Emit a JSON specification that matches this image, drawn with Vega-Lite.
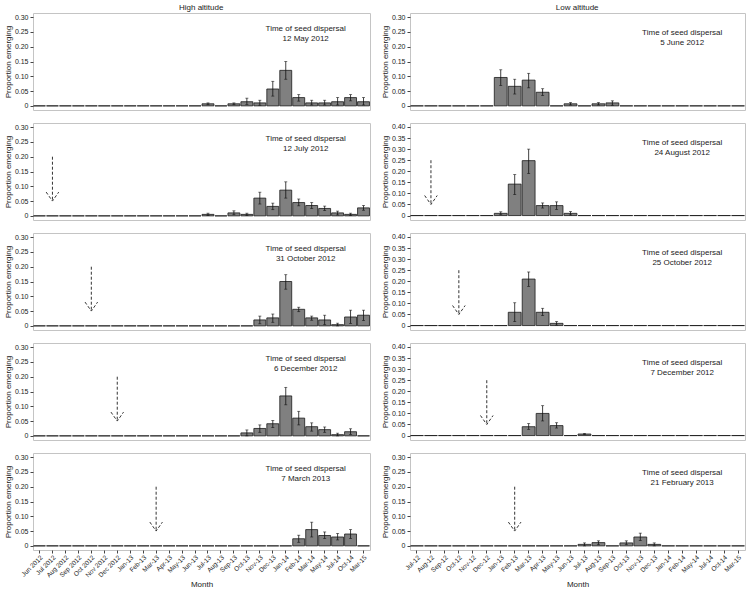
{
"$schema":"https://vega.github.io/schema/vega-lite/v6.json",
"padding":{"left":3,"top":3,"right":2,"bottom":2},
"config":{"font":"Liberation Sans","view":{"stroke":"#c4c4c4"},"axis":{"labelFontSize":7,"titleFontSize":8,"titleFontWeight":"normal","labelColor":"#222","titleColor":"#222","tickColor":"#444","domain":false,"grid":false,"tickSize":3,"labelPadding":2,"titlePadding":2},"title":{"fontSize":8,"fontWeight":"normal","offset":1,"color":"#222"}},
"datasets":{
"bars":[
{"p":1,"m":"Jun 2012","v":0},{"p":1,"m":"Jul 2012","v":0},{"p":1,"m":"Aug 2012","v":0},{"p":1,"m":"Sep 2012","v":0},{"p":1,"m":"Oct 2012","v":0},{"p":1,"m":"Nov 2012","v":0},{"p":1,"m":"Dec 2012","v":0},{"p":1,"m":"Jan-13","v":0},{"p":1,"m":"Feb-13","v":0},{"p":1,"m":"Mar-13","v":0},{"p":1,"m":"Apr-13","v":0},{"p":1,"m":"May-13","v":0},{"p":1,"m":"Jun-13","v":0},{"p":1,"m":"Jul-13","v":0.007,"lo":0.004,"hi":0.01},{"p":1,"m":"Aug-13","v":0},{"p":1,"m":"Sep-13","v":0.007,"lo":0.004,"hi":0.01},{"p":1,"m":"Oct-13","v":0.014,"lo":0.005,"hi":0.026},{"p":1,"m":"Nov-13","v":0.01,"lo":0.002,"hi":0.019},{"p":1,"m":"Dec-13","v":0.057,"lo":0.033,"hi":0.083},{"p":1,"m":"Jan-14","v":0.12,"lo":0.09,"hi":0.15},{"p":1,"m":"Feb-14","v":0.028,"lo":0.016,"hi":0.038},{"p":1,"m":"Mar-14","v":0.01,"lo":0.003,"hi":0.019},{"p":1,"m":"May-14","v":0.01,"lo":0.003,"hi":0.019},{"p":1,"m":"Jul-14","v":0.014,"lo":0.003,"hi":0.028},{"p":1,"m":"Oct-14","v":0.028,"lo":0.017,"hi":0.038},{"p":1,"m":"Mar-15","v":0.014,"lo":0.003,"hi":0.028},
{"p":2,"m":"Jun 2012","v":0},{"p":2,"m":"Jul 2012","v":0},{"p":2,"m":"Aug 2012","v":0},{"p":2,"m":"Sep 2012","v":0},{"p":2,"m":"Oct 2012","v":0},{"p":2,"m":"Nov 2012","v":0},{"p":2,"m":"Dec 2012","v":0},{"p":2,"m":"Jan-13","v":0},{"p":2,"m":"Feb-13","v":0},{"p":2,"m":"Mar-13","v":0},{"p":2,"m":"Apr-13","v":0},{"p":2,"m":"May-13","v":0},{"p":2,"m":"Jun-13","v":0},{"p":2,"m":"Jul-13","v":0.005,"lo":0.001,"hi":0.009},{"p":2,"m":"Aug-13","v":0},{"p":2,"m":"Sep-13","v":0.01,"lo":0.004,"hi":0.017},{"p":2,"m":"Oct-13","v":0.005,"lo":0.001,"hi":0.009},{"p":2,"m":"Nov-13","v":0.06,"lo":0.04,"hi":0.08},{"p":2,"m":"Dec-13","v":0.032,"lo":0.021,"hi":0.043},{"p":2,"m":"Jan-14","v":0.087,"lo":0.06,"hi":0.115},{"p":2,"m":"Feb-14","v":0.045,"lo":0.034,"hi":0.057},{"p":2,"m":"Mar-14","v":0.035,"lo":0.025,"hi":0.045},{"p":2,"m":"May-14","v":0.025,"lo":0.018,"hi":0.033},{"p":2,"m":"Jul-14","v":0.01,"lo":0.003,"hi":0.016},{"p":2,"m":"Oct-14","v":0.005,"lo":0.001,"hi":0.009},{"p":2,"m":"Mar-15","v":0.027,"lo":0.019,"hi":0.035},
{"p":3,"m":"Jun 2012","v":0},{"p":3,"m":"Jul 2012","v":0},{"p":3,"m":"Aug 2012","v":0},{"p":3,"m":"Sep 2012","v":0},{"p":3,"m":"Oct 2012","v":0},{"p":3,"m":"Nov 2012","v":0},{"p":3,"m":"Dec 2012","v":0},{"p":3,"m":"Jan-13","v":0},{"p":3,"m":"Feb-13","v":0},{"p":3,"m":"Mar-13","v":0},{"p":3,"m":"Apr-13","v":0},{"p":3,"m":"May-13","v":0},{"p":3,"m":"Jun-13","v":0},{"p":3,"m":"Jul-13","v":0},{"p":3,"m":"Aug-13","v":0},{"p":3,"m":"Sep-13","v":0},{"p":3,"m":"Oct-13","v":0},{"p":3,"m":"Nov-13","v":0.02,"lo":0.007,"hi":0.033},{"p":3,"m":"Dec-13","v":0.027,"lo":0.012,"hi":0.04},{"p":3,"m":"Jan-14","v":0.15,"lo":0.124,"hi":0.173},{"p":3,"m":"Feb-14","v":0.056,"lo":0.048,"hi":0.063},{"p":3,"m":"Mar-14","v":0.027,"lo":0.019,"hi":0.033},{"p":3,"m":"May-14","v":0.02,"lo":0.004,"hi":0.036},{"p":3,"m":"Jul-14","v":0.004,"lo":0,"hi":0.009},{"p":3,"m":"Oct-14","v":0.03,"lo":0.008,"hi":0.053},{"p":3,"m":"Mar-15","v":0.036,"lo":0.018,"hi":0.053},
{"p":4,"m":"Jun 2012","v":0},{"p":4,"m":"Jul 2012","v":0},{"p":4,"m":"Aug 2012","v":0},{"p":4,"m":"Sep 2012","v":0},{"p":4,"m":"Oct 2012","v":0},{"p":4,"m":"Nov 2012","v":0},{"p":4,"m":"Dec 2012","v":0},{"p":4,"m":"Jan-13","v":0},{"p":4,"m":"Feb-13","v":0},{"p":4,"m":"Mar-13","v":0},{"p":4,"m":"Apr-13","v":0},{"p":4,"m":"May-13","v":0},{"p":4,"m":"Jun-13","v":0},{"p":4,"m":"Jul-13","v":0},{"p":4,"m":"Aug-13","v":0},{"p":4,"m":"Sep-13","v":0},{"p":4,"m":"Oct-13","v":0.01,"lo":0,"hi":0.02},{"p":4,"m":"Nov-13","v":0.025,"lo":0.012,"hi":0.037},{"p":4,"m":"Dec-13","v":0.041,"lo":0.028,"hi":0.052},{"p":4,"m":"Jan-14","v":0.135,"lo":0.105,"hi":0.164},{"p":4,"m":"Feb-14","v":0.06,"lo":0.037,"hi":0.083},{"p":4,"m":"Mar-14","v":0.031,"lo":0.016,"hi":0.044},{"p":4,"m":"May-14","v":0.021,"lo":0.012,"hi":0.03},{"p":4,"m":"Jul-14","v":0.004,"lo":0,"hi":0.009},{"p":4,"m":"Oct-14","v":0.014,"lo":0.005,"hi":0.024},{"p":4,"m":"Mar-15","v":0},
{"p":5,"m":"Jun 2012","v":0},{"p":5,"m":"Jul 2012","v":0},{"p":5,"m":"Aug 2012","v":0},{"p":5,"m":"Sep 2012","v":0},{"p":5,"m":"Oct 2012","v":0},{"p":5,"m":"Nov 2012","v":0},{"p":5,"m":"Dec 2012","v":0},{"p":5,"m":"Jan-13","v":0},{"p":5,"m":"Feb-13","v":0},{"p":5,"m":"Mar-13","v":0},{"p":5,"m":"Apr-13","v":0},{"p":5,"m":"May-13","v":0},{"p":5,"m":"Jun-13","v":0},{"p":5,"m":"Jul-13","v":0},{"p":5,"m":"Aug-13","v":0},{"p":5,"m":"Sep-13","v":0},{"p":5,"m":"Oct-13","v":0},{"p":5,"m":"Nov-13","v":0},{"p":5,"m":"Dec-13","v":0},{"p":5,"m":"Jan-14","v":0},{"p":5,"m":"Feb-14","v":0.024,"lo":0.012,"hi":0.036},{"p":5,"m":"Mar-14","v":0.055,"lo":0.03,"hi":0.08},{"p":5,"m":"May-14","v":0.035,"lo":0.025,"hi":0.047},{"p":5,"m":"Jul-14","v":0.03,"lo":0.02,"hi":0.042},{"p":5,"m":"Oct-14","v":0.04,"lo":0.025,"hi":0.055},{"p":5,"m":"Mar-15","v":0},
{"p":6,"m":"Jul-12","v":0},{"p":6,"m":"Aug-12","v":0},{"p":6,"m":"Sep-12","v":0},{"p":6,"m":"Oct-12","v":0},{"p":6,"m":"Nov-12","v":0},{"p":6,"m":"Dec-12","v":0},{"p":6,"m":"Jan-13","v":0.096,"lo":0.069,"hi":0.122},{"p":6,"m":"Feb-13","v":0.066,"lo":0.04,"hi":0.09},{"p":6,"m":"Mar-13","v":0.087,"lo":0.061,"hi":0.11},{"p":6,"m":"Apr-13","v":0.046,"lo":0.035,"hi":0.058},{"p":6,"m":"May-13","v":0},{"p":6,"m":"Jun-13","v":0.007,"lo":0.003,"hi":0.011},{"p":6,"m":"Jul-13","v":0},{"p":6,"m":"Aug-13","v":0.007,"lo":0.003,"hi":0.011},{"p":6,"m":"Sep-13","v":0.01,"lo":0.002,"hi":0.017},{"p":6,"m":"Oct-13","v":0},{"p":6,"m":"Nov-13","v":0},{"p":6,"m":"Dec-13","v":0},{"p":6,"m":"Jan-14","v":0},{"p":6,"m":"Feb-14","v":0},{"p":6,"m":"May-14","v":0},{"p":6,"m":"Jul-14","v":0},{"p":6,"m":"Oct-14","v":0},{"p":6,"m":"Mar-15","v":0},
{"p":7,"m":"Jul-12","v":0},{"p":7,"m":"Aug-12","v":0},{"p":7,"m":"Sep-12","v":0},{"p":7,"m":"Oct-12","v":0},{"p":7,"m":"Nov-12","v":0},{"p":7,"m":"Dec-12","v":0},{"p":7,"m":"Jan-13","v":0.01,"lo":0.004,"hi":0.017},{"p":7,"m":"Feb-13","v":0.142,"lo":0.095,"hi":0.185},{"p":7,"m":"Mar-13","v":0.248,"lo":0.19,"hi":0.3},{"p":7,"m":"Apr-13","v":0.045,"lo":0.034,"hi":0.057},{"p":7,"m":"May-13","v":0.045,"lo":0.028,"hi":0.062},{"p":7,"m":"Jun-13","v":0.01,"lo":0.003,"hi":0.018},{"p":7,"m":"Jul-13","v":0},{"p":7,"m":"Aug-13","v":0},{"p":7,"m":"Sep-13","v":0},{"p":7,"m":"Oct-13","v":0},{"p":7,"m":"Nov-13","v":0},{"p":7,"m":"Dec-13","v":0},{"p":7,"m":"Jan-14","v":0},{"p":7,"m":"Feb-14","v":0},{"p":7,"m":"May-14","v":0},{"p":7,"m":"Jul-14","v":0},{"p":7,"m":"Oct-14","v":0},{"p":7,"m":"Mar-15","v":0},
{"p":8,"m":"Jul-12","v":0},{"p":8,"m":"Aug-12","v":0},{"p":8,"m":"Sep-12","v":0},{"p":8,"m":"Oct-12","v":0},{"p":8,"m":"Nov-12","v":0},{"p":8,"m":"Dec-12","v":0},{"p":8,"m":"Jan-13","v":0},{"p":8,"m":"Feb-13","v":0.06,"lo":0.018,"hi":0.103},{"p":8,"m":"Mar-13","v":0.21,"lo":0.177,"hi":0.242},{"p":8,"m":"Apr-13","v":0.06,"lo":0.045,"hi":0.078},{"p":8,"m":"May-13","v":0.01,"lo":0.002,"hi":0.018},{"p":8,"m":"Jun-13","v":0},{"p":8,"m":"Jul-13","v":0},{"p":8,"m":"Aug-13","v":0},{"p":8,"m":"Sep-13","v":0},{"p":8,"m":"Oct-13","v":0},{"p":8,"m":"Nov-13","v":0},{"p":8,"m":"Dec-13","v":0},{"p":8,"m":"Jan-14","v":0},{"p":8,"m":"Feb-14","v":0},{"p":8,"m":"May-14","v":0},{"p":8,"m":"Jul-14","v":0},{"p":8,"m":"Oct-14","v":0},{"p":8,"m":"Mar-15","v":0},
{"p":9,"m":"Jul-12","v":0},{"p":9,"m":"Aug-12","v":0},{"p":9,"m":"Sep-12","v":0},{"p":9,"m":"Oct-12","v":0},{"p":9,"m":"Nov-12","v":0},{"p":9,"m":"Dec-12","v":0},{"p":9,"m":"Jan-13","v":0},{"p":9,"m":"Feb-13","v":0},{"p":9,"m":"Mar-13","v":0.04,"lo":0.028,"hi":0.054},{"p":9,"m":"Apr-13","v":0.1,"lo":0.066,"hi":0.135},{"p":9,"m":"May-13","v":0.045,"lo":0.034,"hi":0.058},{"p":9,"m":"Jun-13","v":0},{"p":9,"m":"Jul-13","v":0.007,"lo":0.005,"hi":0.009},{"p":9,"m":"Aug-13","v":0},{"p":9,"m":"Sep-13","v":0},{"p":9,"m":"Oct-13","v":0},{"p":9,"m":"Nov-13","v":0},{"p":9,"m":"Dec-13","v":0},{"p":9,"m":"Jan-14","v":0},{"p":9,"m":"Feb-14","v":0},{"p":9,"m":"May-14","v":0},{"p":9,"m":"Jul-14","v":0},{"p":9,"m":"Oct-14","v":0},{"p":9,"m":"Mar-15","v":0},
{"p":10,"m":"Jul-12","v":0},{"p":10,"m":"Aug-12","v":0},{"p":10,"m":"Sep-12","v":0},{"p":10,"m":"Oct-12","v":0},{"p":10,"m":"Nov-12","v":0},{"p":10,"m":"Dec-12","v":0},{"p":10,"m":"Jan-13","v":0},{"p":10,"m":"Feb-13","v":0},{"p":10,"m":"Mar-13","v":0},{"p":10,"m":"Apr-13","v":0},{"p":10,"m":"May-13","v":0},{"p":10,"m":"Jun-13","v":0},{"p":10,"m":"Jul-13","v":0.005,"lo":0,"hi":0.01},{"p":10,"m":"Aug-13","v":0.011,"lo":0.004,"hi":0.017},{"p":10,"m":"Sep-13","v":0},{"p":10,"m":"Oct-13","v":0.01,"lo":0.004,"hi":0.017},{"p":10,"m":"Nov-13","v":0.03,"lo":0.018,"hi":0.043},{"p":10,"m":"Dec-13","v":0.005,"lo":0,"hi":0.01},{"p":10,"m":"Jan-14","v":0},{"p":10,"m":"Feb-14","v":0},{"p":10,"m":"May-14","v":0},{"p":10,"m":"Jul-14","v":0},{"p":10,"m":"Oct-14","v":0},{"p":10,"m":"Mar-15","v":0}
],
"notes":[
{"p":1,"m":"Mar-14","y":0.261,"t":"Time of seed dispersal\n12 May 2012"},
{"p":2,"m":"Mar-14","y":0.261,"t":"Time of seed dispersal\n12 July 2012"},
{"p":3,"m":"Mar-14","y":0.261,"t":"Time of seed dispersal\n31 October 2012"},
{"p":4,"m":"Mar-14","y":0.261,"t":"Time of seed dispersal\n6 December 2012"},
{"p":5,"m":"Mar-14","y":0.261,"t":"Time of seed dispersal\n7 March 2013"},
{"p":6,"m":"Feb-14","y":0.245,"t":"Time of seed dispersal\n5 June 2012"},
{"p":7,"m":"Feb-14","y":0.326,"t":"Time of seed dispersal\n24 August 2012"},
{"p":8,"m":"Feb-14","y":0.326,"t":"Time of seed dispersal\n25 October 2012"},
{"p":9,"m":"Feb-14","y":0.326,"t":"Time of seed dispersal\n7 December 2012"},
{"p":10,"m":"Feb-14","y":0.245,"t":"Time of seed dispersal\n21 February 2013"}
],
"arrows":[
{"p":2,"m":"Jul 2012","top":0.2,"tip":0.05},
{"p":3,"m":"Oct 2012","top":0.2,"tip":0.05},
{"p":4,"m":"Dec 2012","top":0.2,"tip":0.05},
{"p":5,"m":"Mar-13","top":0.2,"tip":0.05},
{"p":7,"m":"Aug-12","top":0.25,"tip":0.05},
{"p":8,"m":"Oct-12","top":0.25,"tip":0.05},
{"p":9,"m":"Dec-12","top":0.25,"tip":0.05},
{"p":10,"m":"Feb-13","top":0.2,"tip":0.05}
]
},
"hconcat":[
{"title":{"text":"High altitude","anchor":"middle","dx":14},"spacing":11,"vconcat":[
{"width":337,"height":97,"encoding":{"x":{"field":"m","type":"nominal","scale":{"domain":["Jun 2012","Jul 2012","Aug 2012","Sep 2012","Oct 2012","Nov 2012","Dec 2012","Jan-13","Feb-13","Mar-13","Apr-13","May-13","Jun-13","Jul-13","Aug-13","Sep-13","Oct-13","Nov-13","Dec-13","Jan-14","Feb-14","Mar-14","May-14","Jul-14","Oct-14","Mar-15"],"paddingInner":0.08,"paddingOuter":0.04},"axis":null}},"layer":[
{"data":{"name":"bars"},"transform":[{"filter":"datum.p==1"}],"mark":{"type":"bar","fill":"#808080","stroke":"#1a1a1a","strokeWidth":0.8},"encoding":{"y":{"field":"v","type":"quantitative","scale":{"domain":[-0.014,0.314],"nice":false,"zero":false},"axis":{"title":"Proportion emerging","values":[0,0.05,0.1,0.15,0.2,0.25,0.3],"labelExpr":"datum.value==0?'0':format(datum.value,'.2f')"}}}},
{"data":{"name":"bars"},"transform":[{"filter":"datum.p==1 && isValid(datum.lo)"}],"mark":{"type":"rule","color":"#111","strokeWidth":0.8},"encoding":{"y":{"field":"lo","type":"quantitative","axis":{"title":"Proportion emerging","values":[0,0.05,0.1,0.15,0.2,0.25,0.3],"labelExpr":"datum.value==0?'0':format(datum.value,'.2f')"}},"y2":{"field":"hi"}}},
{"data":{"name":"bars"},"transform":[{"filter":"datum.p==1 && isValid(datum.lo)"}],"mark":{"type":"tick","color":"#111","size":3,"thickness":0.8},"encoding":{"y":{"field":"lo","type":"quantitative","axis":{"title":"Proportion emerging","values":[0,0.05,0.1,0.15,0.2,0.25,0.3],"labelExpr":"datum.value==0?'0':format(datum.value,'.2f')"}}}},
{"data":{"name":"bars"},"transform":[{"filter":"datum.p==1 && isValid(datum.lo)"}],"mark":{"type":"tick","color":"#111","size":3,"thickness":0.8},"encoding":{"y":{"field":"hi","type":"quantitative","axis":{"title":"Proportion emerging","values":[0,0.05,0.1,0.15,0.2,0.25,0.3],"labelExpr":"datum.value==0?'0':format(datum.value,'.2f')"}}}},
{"data":{"name":"notes"},"transform":[{"filter":"datum.p==1"}],"mark":{"type":"text","fontSize":8,"lineBreak":"\n","lineHeight":10,"align":"center","baseline":"middle","dx":-6,"color":"#222"},"encoding":{"y":{"field":"y","type":"quantitative","axis":{"title":"Proportion emerging","values":[0,0.05,0.1,0.15,0.2,0.25,0.3],"labelExpr":"datum.value==0?'0':format(datum.value,'.2f')"}},"text":{"field":"t"}}}
]},
{"width":337,"height":97,"encoding":{"x":{"field":"m","type":"nominal","scale":{"domain":["Jun 2012","Jul 2012","Aug 2012","Sep 2012","Oct 2012","Nov 2012","Dec 2012","Jan-13","Feb-13","Mar-13","Apr-13","May-13","Jun-13","Jul-13","Aug-13","Sep-13","Oct-13","Nov-13","Dec-13","Jan-14","Feb-14","Mar-14","May-14","Jul-14","Oct-14","Mar-15"],"paddingInner":0.08,"paddingOuter":0.04},"axis":null}},"layer":[
{"data":{"name":"bars"},"transform":[{"filter":"datum.p==2"}],"mark":{"type":"bar","fill":"#808080","stroke":"#1a1a1a","strokeWidth":0.8},"encoding":{"y":{"field":"v","type":"quantitative","scale":{"domain":[-0.014,0.314],"nice":false,"zero":false},"axis":{"title":"Proportion emerging","values":[0,0.05,0.1,0.15,0.2,0.25,0.3],"labelExpr":"datum.value==0?'0':format(datum.value,'.2f')"}}}},
{"data":{"name":"bars"},"transform":[{"filter":"datum.p==2 && isValid(datum.lo)"}],"mark":{"type":"rule","color":"#111","strokeWidth":0.8},"encoding":{"y":{"field":"lo","type":"quantitative","axis":{"title":"Proportion emerging","values":[0,0.05,0.1,0.15,0.2,0.25,0.3],"labelExpr":"datum.value==0?'0':format(datum.value,'.2f')"}},"y2":{"field":"hi"}}},
{"data":{"name":"bars"},"transform":[{"filter":"datum.p==2 && isValid(datum.lo)"}],"mark":{"type":"tick","color":"#111","size":3,"thickness":0.8},"encoding":{"y":{"field":"lo","type":"quantitative","axis":{"title":"Proportion emerging","values":[0,0.05,0.1,0.15,0.2,0.25,0.3],"labelExpr":"datum.value==0?'0':format(datum.value,'.2f')"}}}},
{"data":{"name":"bars"},"transform":[{"filter":"datum.p==2 && isValid(datum.lo)"}],"mark":{"type":"tick","color":"#111","size":3,"thickness":0.8},"encoding":{"y":{"field":"hi","type":"quantitative","axis":{"title":"Proportion emerging","values":[0,0.05,0.1,0.15,0.2,0.25,0.3],"labelExpr":"datum.value==0?'0':format(datum.value,'.2f')"}}}},
{"data":{"name":"notes"},"transform":[{"filter":"datum.p==2"}],"mark":{"type":"text","fontSize":8,"lineBreak":"\n","lineHeight":10,"align":"center","baseline":"middle","dx":-6,"color":"#222"},"encoding":{"y":{"field":"y","type":"quantitative","axis":{"title":"Proportion emerging","values":[0,0.05,0.1,0.15,0.2,0.25,0.3],"labelExpr":"datum.value==0?'0':format(datum.value,'.2f')"}},"text":{"field":"t"}}},
{"data":{"name":"arrows"},"transform":[{"filter":"datum.p==2"}],"mark":{"type":"rule","color":"#333","strokeWidth":1,"strokeDash":[3,2]},"encoding":{"y":{"field":"top","type":"quantitative","axis":{"title":"Proportion emerging","values":[0,0.05,0.1,0.15,0.2,0.25,0.3],"labelExpr":"datum.value==0?'0':format(datum.value,'.2f')"}},"y2":{"field":"tip"}}},
{"data":{"name":"arrows"},"transform":[{"filter":"datum.p==2"}],"mark":{"type":"point","shape":"M-0.7,-1L0,0L0.7,-1","filled":false,"opacity":1,"stroke":"#333","strokeWidth":1,"strokeDash":[3,2],"size":324},"encoding":{"y":{"field":"tip","type":"quantitative","axis":{"title":"Proportion emerging","values":[0,0.05,0.1,0.15,0.2,0.25,0.3],"labelExpr":"datum.value==0?'0':format(datum.value,'.2f')"}}}}
]},
{"width":337,"height":97,"encoding":{"x":{"field":"m","type":"nominal","scale":{"domain":["Jun 2012","Jul 2012","Aug 2012","Sep 2012","Oct 2012","Nov 2012","Dec 2012","Jan-13","Feb-13","Mar-13","Apr-13","May-13","Jun-13","Jul-13","Aug-13","Sep-13","Oct-13","Nov-13","Dec-13","Jan-14","Feb-14","Mar-14","May-14","Jul-14","Oct-14","Mar-15"],"paddingInner":0.08,"paddingOuter":0.04},"axis":null}},"layer":[
{"data":{"name":"bars"},"transform":[{"filter":"datum.p==3"}],"mark":{"type":"bar","fill":"#808080","stroke":"#1a1a1a","strokeWidth":0.8},"encoding":{"y":{"field":"v","type":"quantitative","scale":{"domain":[-0.014,0.314],"nice":false,"zero":false},"axis":{"title":"Proportion emerging","values":[0,0.05,0.1,0.15,0.2,0.25,0.3],"labelExpr":"datum.value==0?'0':format(datum.value,'.2f')"}}}},
{"data":{"name":"bars"},"transform":[{"filter":"datum.p==3 && isValid(datum.lo)"}],"mark":{"type":"rule","color":"#111","strokeWidth":0.8},"encoding":{"y":{"field":"lo","type":"quantitative","axis":{"title":"Proportion emerging","values":[0,0.05,0.1,0.15,0.2,0.25,0.3],"labelExpr":"datum.value==0?'0':format(datum.value,'.2f')"}},"y2":{"field":"hi"}}},
{"data":{"name":"bars"},"transform":[{"filter":"datum.p==3 && isValid(datum.lo)"}],"mark":{"type":"tick","color":"#111","size":3,"thickness":0.8},"encoding":{"y":{"field":"lo","type":"quantitative","axis":{"title":"Proportion emerging","values":[0,0.05,0.1,0.15,0.2,0.25,0.3],"labelExpr":"datum.value==0?'0':format(datum.value,'.2f')"}}}},
{"data":{"name":"bars"},"transform":[{"filter":"datum.p==3 && isValid(datum.lo)"}],"mark":{"type":"tick","color":"#111","size":3,"thickness":0.8},"encoding":{"y":{"field":"hi","type":"quantitative","axis":{"title":"Proportion emerging","values":[0,0.05,0.1,0.15,0.2,0.25,0.3],"labelExpr":"datum.value==0?'0':format(datum.value,'.2f')"}}}},
{"data":{"name":"notes"},"transform":[{"filter":"datum.p==3"}],"mark":{"type":"text","fontSize":8,"lineBreak":"\n","lineHeight":10,"align":"center","baseline":"middle","dx":-6,"color":"#222"},"encoding":{"y":{"field":"y","type":"quantitative","axis":{"title":"Proportion emerging","values":[0,0.05,0.1,0.15,0.2,0.25,0.3],"labelExpr":"datum.value==0?'0':format(datum.value,'.2f')"}},"text":{"field":"t"}}},
{"data":{"name":"arrows"},"transform":[{"filter":"datum.p==3"}],"mark":{"type":"rule","color":"#333","strokeWidth":1,"strokeDash":[3,2]},"encoding":{"y":{"field":"top","type":"quantitative","axis":{"title":"Proportion emerging","values":[0,0.05,0.1,0.15,0.2,0.25,0.3],"labelExpr":"datum.value==0?'0':format(datum.value,'.2f')"}},"y2":{"field":"tip"}}},
{"data":{"name":"arrows"},"transform":[{"filter":"datum.p==3"}],"mark":{"type":"point","shape":"M-0.7,-1L0,0L0.7,-1","filled":false,"opacity":1,"stroke":"#333","strokeWidth":1,"strokeDash":[3,2],"size":324},"encoding":{"y":{"field":"tip","type":"quantitative","axis":{"title":"Proportion emerging","values":[0,0.05,0.1,0.15,0.2,0.25,0.3],"labelExpr":"datum.value==0?'0':format(datum.value,'.2f')"}}}}
]},
{"width":337,"height":97,"encoding":{"x":{"field":"m","type":"nominal","scale":{"domain":["Jun 2012","Jul 2012","Aug 2012","Sep 2012","Oct 2012","Nov 2012","Dec 2012","Jan-13","Feb-13","Mar-13","Apr-13","May-13","Jun-13","Jul-13","Aug-13","Sep-13","Oct-13","Nov-13","Dec-13","Jan-14","Feb-14","Mar-14","May-14","Jul-14","Oct-14","Mar-15"],"paddingInner":0.08,"paddingOuter":0.04},"axis":null}},"layer":[
{"data":{"name":"bars"},"transform":[{"filter":"datum.p==4"}],"mark":{"type":"bar","fill":"#808080","stroke":"#1a1a1a","strokeWidth":0.8},"encoding":{"y":{"field":"v","type":"quantitative","scale":{"domain":[-0.014,0.314],"nice":false,"zero":false},"axis":{"title":"Proportion emerging","values":[0,0.05,0.1,0.15,0.2,0.25,0.3],"labelExpr":"datum.value==0?'0':format(datum.value,'.2f')"}}}},
{"data":{"name":"bars"},"transform":[{"filter":"datum.p==4 && isValid(datum.lo)"}],"mark":{"type":"rule","color":"#111","strokeWidth":0.8},"encoding":{"y":{"field":"lo","type":"quantitative","axis":{"title":"Proportion emerging","values":[0,0.05,0.1,0.15,0.2,0.25,0.3],"labelExpr":"datum.value==0?'0':format(datum.value,'.2f')"}},"y2":{"field":"hi"}}},
{"data":{"name":"bars"},"transform":[{"filter":"datum.p==4 && isValid(datum.lo)"}],"mark":{"type":"tick","color":"#111","size":3,"thickness":0.8},"encoding":{"y":{"field":"lo","type":"quantitative","axis":{"title":"Proportion emerging","values":[0,0.05,0.1,0.15,0.2,0.25,0.3],"labelExpr":"datum.value==0?'0':format(datum.value,'.2f')"}}}},
{"data":{"name":"bars"},"transform":[{"filter":"datum.p==4 && isValid(datum.lo)"}],"mark":{"type":"tick","color":"#111","size":3,"thickness":0.8},"encoding":{"y":{"field":"hi","type":"quantitative","axis":{"title":"Proportion emerging","values":[0,0.05,0.1,0.15,0.2,0.25,0.3],"labelExpr":"datum.value==0?'0':format(datum.value,'.2f')"}}}},
{"data":{"name":"notes"},"transform":[{"filter":"datum.p==4"}],"mark":{"type":"text","fontSize":8,"lineBreak":"\n","lineHeight":10,"align":"center","baseline":"middle","dx":-6,"color":"#222"},"encoding":{"y":{"field":"y","type":"quantitative","axis":{"title":"Proportion emerging","values":[0,0.05,0.1,0.15,0.2,0.25,0.3],"labelExpr":"datum.value==0?'0':format(datum.value,'.2f')"}},"text":{"field":"t"}}},
{"data":{"name":"arrows"},"transform":[{"filter":"datum.p==4"}],"mark":{"type":"rule","color":"#333","strokeWidth":1,"strokeDash":[3,2]},"encoding":{"y":{"field":"top","type":"quantitative","axis":{"title":"Proportion emerging","values":[0,0.05,0.1,0.15,0.2,0.25,0.3],"labelExpr":"datum.value==0?'0':format(datum.value,'.2f')"}},"y2":{"field":"tip"}}},
{"data":{"name":"arrows"},"transform":[{"filter":"datum.p==4"}],"mark":{"type":"point","shape":"M-0.7,-1L0,0L0.7,-1","filled":false,"opacity":1,"stroke":"#333","strokeWidth":1,"strokeDash":[3,2],"size":324},"encoding":{"y":{"field":"tip","type":"quantitative","axis":{"title":"Proportion emerging","values":[0,0.05,0.1,0.15,0.2,0.25,0.3],"labelExpr":"datum.value==0?'0':format(datum.value,'.2f')"}}}}
]},
{"width":337,"height":97,"encoding":{"x":{"field":"m","type":"nominal","scale":{"domain":["Jun 2012","Jul 2012","Aug 2012","Sep 2012","Oct 2012","Nov 2012","Dec 2012","Jan-13","Feb-13","Mar-13","Apr-13","May-13","Jun-13","Jul-13","Aug-13","Sep-13","Oct-13","Nov-13","Dec-13","Jan-14","Feb-14","Mar-14","May-14","Jul-14","Oct-14","Mar-15"],"paddingInner":0.08,"paddingOuter":0.04},"axis":{"title":"Month","labelAngle":-45,"labelFontSize":6.5,"labelPadding":1,"titleY":30,"titleBaseline":"top"}}},"layer":[
{"data":{"name":"bars"},"transform":[{"filter":"datum.p==5"}],"mark":{"type":"bar","fill":"#808080","stroke":"#1a1a1a","strokeWidth":0.8},"encoding":{"y":{"field":"v","type":"quantitative","scale":{"domain":[-0.014,0.314],"nice":false,"zero":false},"axis":{"title":"Proportion emerging","values":[0,0.05,0.1,0.15,0.2,0.25,0.3],"labelExpr":"datum.value==0?'0':format(datum.value,'.2f')"}}}},
{"data":{"name":"bars"},"transform":[{"filter":"datum.p==5 && isValid(datum.lo)"}],"mark":{"type":"rule","color":"#111","strokeWidth":0.8},"encoding":{"y":{"field":"lo","type":"quantitative","axis":{"title":"Proportion emerging","values":[0,0.05,0.1,0.15,0.2,0.25,0.3],"labelExpr":"datum.value==0?'0':format(datum.value,'.2f')"}},"y2":{"field":"hi"}}},
{"data":{"name":"bars"},"transform":[{"filter":"datum.p==5 && isValid(datum.lo)"}],"mark":{"type":"tick","color":"#111","size":3,"thickness":0.8},"encoding":{"y":{"field":"lo","type":"quantitative","axis":{"title":"Proportion emerging","values":[0,0.05,0.1,0.15,0.2,0.25,0.3],"labelExpr":"datum.value==0?'0':format(datum.value,'.2f')"}}}},
{"data":{"name":"bars"},"transform":[{"filter":"datum.p==5 && isValid(datum.lo)"}],"mark":{"type":"tick","color":"#111","size":3,"thickness":0.8},"encoding":{"y":{"field":"hi","type":"quantitative","axis":{"title":"Proportion emerging","values":[0,0.05,0.1,0.15,0.2,0.25,0.3],"labelExpr":"datum.value==0?'0':format(datum.value,'.2f')"}}}},
{"data":{"name":"notes"},"transform":[{"filter":"datum.p==5"}],"mark":{"type":"text","fontSize":8,"lineBreak":"\n","lineHeight":10,"align":"center","baseline":"middle","dx":-6,"color":"#222"},"encoding":{"y":{"field":"y","type":"quantitative","axis":{"title":"Proportion emerging","values":[0,0.05,0.1,0.15,0.2,0.25,0.3],"labelExpr":"datum.value==0?'0':format(datum.value,'.2f')"}},"text":{"field":"t"}}},
{"data":{"name":"arrows"},"transform":[{"filter":"datum.p==5"}],"mark":{"type":"rule","color":"#333","strokeWidth":1,"strokeDash":[3,2]},"encoding":{"y":{"field":"top","type":"quantitative","axis":{"title":"Proportion emerging","values":[0,0.05,0.1,0.15,0.2,0.25,0.3],"labelExpr":"datum.value==0?'0':format(datum.value,'.2f')"}},"y2":{"field":"tip"}}},
{"data":{"name":"arrows"},"transform":[{"filter":"datum.p==5"}],"mark":{"type":"point","shape":"M-0.7,-1L0,0L0.7,-1","filled":false,"opacity":1,"stroke":"#333","strokeWidth":1,"strokeDash":[3,2],"size":324},"encoding":{"y":{"field":"tip","type":"quantitative","axis":{"title":"Proportion emerging","values":[0,0.05,0.1,0.15,0.2,0.25,0.3],"labelExpr":"datum.value==0?'0':format(datum.value,'.2f')"}}}}
]}
]},
{"title":{"text":"Low altitude","anchor":"middle","dx":14},"spacing":11,"vconcat":[
{"width":335,"height":97,"encoding":{"x":{"field":"m","type":"nominal","scale":{"domain":["Jul-12","Aug-12","Sep-12","Oct-12","Nov-12","Dec-12","Jan-13","Feb-13","Mar-13","Apr-13","May-13","Jun-13","Jul-13","Aug-13","Sep-13","Oct-13","Nov-13","Dec-13","Jan-14","Feb-14","May-14","Jul-14","Oct-14","Mar-15"],"paddingInner":0.08,"paddingOuter":0.04},"axis":null}},"layer":[
{"data":{"name":"bars"},"transform":[{"filter":"datum.p==6"}],"mark":{"type":"bar","fill":"#808080","stroke":"#1a1a1a","strokeWidth":0.8},"encoding":{"y":{"field":"v","type":"quantitative","scale":{"domain":[-0.014,0.314],"nice":false,"zero":false},"axis":{"title":"Proportion emerging","values":[0,0.05,0.1,0.15,0.2,0.25,0.3],"labelExpr":"datum.value==0?'0':format(datum.value,'.2f')"}}}},
{"data":{"name":"bars"},"transform":[{"filter":"datum.p==6 && isValid(datum.lo)"}],"mark":{"type":"rule","color":"#111","strokeWidth":0.8},"encoding":{"y":{"field":"lo","type":"quantitative","axis":{"title":"Proportion emerging","values":[0,0.05,0.1,0.15,0.2,0.25,0.3],"labelExpr":"datum.value==0?'0':format(datum.value,'.2f')"}},"y2":{"field":"hi"}}},
{"data":{"name":"bars"},"transform":[{"filter":"datum.p==6 && isValid(datum.lo)"}],"mark":{"type":"tick","color":"#111","size":3,"thickness":0.8},"encoding":{"y":{"field":"lo","type":"quantitative","axis":{"title":"Proportion emerging","values":[0,0.05,0.1,0.15,0.2,0.25,0.3],"labelExpr":"datum.value==0?'0':format(datum.value,'.2f')"}}}},
{"data":{"name":"bars"},"transform":[{"filter":"datum.p==6 && isValid(datum.lo)"}],"mark":{"type":"tick","color":"#111","size":3,"thickness":0.8},"encoding":{"y":{"field":"hi","type":"quantitative","axis":{"title":"Proportion emerging","values":[0,0.05,0.1,0.15,0.2,0.25,0.3],"labelExpr":"datum.value==0?'0':format(datum.value,'.2f')"}}}},
{"data":{"name":"notes"},"transform":[{"filter":"datum.p==6"}],"mark":{"type":"text","fontSize":8,"lineBreak":"\n","lineHeight":10,"align":"center","baseline":"middle","color":"#222"},"encoding":{"y":{"field":"y","type":"quantitative","axis":{"title":"Proportion emerging","values":[0,0.05,0.1,0.15,0.2,0.25,0.3],"labelExpr":"datum.value==0?'0':format(datum.value,'.2f')"}},"text":{"field":"t"}}}
]},
{"width":335,"height":97,"encoding":{"x":{"field":"m","type":"nominal","scale":{"domain":["Jul-12","Aug-12","Sep-12","Oct-12","Nov-12","Dec-12","Jan-13","Feb-13","Mar-13","Apr-13","May-13","Jun-13","Jul-13","Aug-13","Sep-13","Oct-13","Nov-13","Dec-13","Jan-14","Feb-14","May-14","Jul-14","Oct-14","Mar-15"],"paddingInner":0.08,"paddingOuter":0.04},"axis":null}},"layer":[
{"data":{"name":"bars"},"transform":[{"filter":"datum.p==7"}],"mark":{"type":"bar","fill":"#808080","stroke":"#1a1a1a","strokeWidth":0.8},"encoding":{"y":{"field":"v","type":"quantitative","scale":{"domain":[-0.02,0.418],"nice":false,"zero":false},"axis":{"title":"Proportion emerging","values":[0,0.05,0.1,0.15,0.2,0.25,0.3,0.35,0.4],"labelExpr":"datum.value==0?'0':format(datum.value,'.2f')"}}}},
{"data":{"name":"bars"},"transform":[{"filter":"datum.p==7 && isValid(datum.lo)"}],"mark":{"type":"rule","color":"#111","strokeWidth":0.8},"encoding":{"y":{"field":"lo","type":"quantitative","axis":{"title":"Proportion emerging","values":[0,0.05,0.1,0.15,0.2,0.25,0.3,0.35,0.4],"labelExpr":"datum.value==0?'0':format(datum.value,'.2f')"}},"y2":{"field":"hi"}}},
{"data":{"name":"bars"},"transform":[{"filter":"datum.p==7 && isValid(datum.lo)"}],"mark":{"type":"tick","color":"#111","size":3,"thickness":0.8},"encoding":{"y":{"field":"lo","type":"quantitative","axis":{"title":"Proportion emerging","values":[0,0.05,0.1,0.15,0.2,0.25,0.3,0.35,0.4],"labelExpr":"datum.value==0?'0':format(datum.value,'.2f')"}}}},
{"data":{"name":"bars"},"transform":[{"filter":"datum.p==7 && isValid(datum.lo)"}],"mark":{"type":"tick","color":"#111","size":3,"thickness":0.8},"encoding":{"y":{"field":"hi","type":"quantitative","axis":{"title":"Proportion emerging","values":[0,0.05,0.1,0.15,0.2,0.25,0.3,0.35,0.4],"labelExpr":"datum.value==0?'0':format(datum.value,'.2f')"}}}},
{"data":{"name":"notes"},"transform":[{"filter":"datum.p==7"}],"mark":{"type":"text","fontSize":8,"lineBreak":"\n","lineHeight":10,"align":"center","baseline":"middle","color":"#222"},"encoding":{"y":{"field":"y","type":"quantitative","axis":{"title":"Proportion emerging","values":[0,0.05,0.1,0.15,0.2,0.25,0.3,0.35,0.4],"labelExpr":"datum.value==0?'0':format(datum.value,'.2f')"}},"text":{"field":"t"}}},
{"data":{"name":"arrows"},"transform":[{"filter":"datum.p==7"}],"mark":{"type":"rule","color":"#333","strokeWidth":1,"strokeDash":[3,2]},"encoding":{"y":{"field":"top","type":"quantitative","axis":{"title":"Proportion emerging","values":[0,0.05,0.1,0.15,0.2,0.25,0.3,0.35,0.4],"labelExpr":"datum.value==0?'0':format(datum.value,'.2f')"}},"y2":{"field":"tip"}}},
{"data":{"name":"arrows"},"transform":[{"filter":"datum.p==7"}],"mark":{"type":"point","shape":"M-0.7,-1L0,0L0.7,-1","filled":false,"opacity":1,"stroke":"#333","strokeWidth":1,"strokeDash":[3,2],"size":324},"encoding":{"y":{"field":"tip","type":"quantitative","axis":{"title":"Proportion emerging","values":[0,0.05,0.1,0.15,0.2,0.25,0.3,0.35,0.4],"labelExpr":"datum.value==0?'0':format(datum.value,'.2f')"}}}}
]},
{"width":335,"height":97,"encoding":{"x":{"field":"m","type":"nominal","scale":{"domain":["Jul-12","Aug-12","Sep-12","Oct-12","Nov-12","Dec-12","Jan-13","Feb-13","Mar-13","Apr-13","May-13","Jun-13","Jul-13","Aug-13","Sep-13","Oct-13","Nov-13","Dec-13","Jan-14","Feb-14","May-14","Jul-14","Oct-14","Mar-15"],"paddingInner":0.08,"paddingOuter":0.04},"axis":null}},"layer":[
{"data":{"name":"bars"},"transform":[{"filter":"datum.p==8"}],"mark":{"type":"bar","fill":"#808080","stroke":"#1a1a1a","strokeWidth":0.8},"encoding":{"y":{"field":"v","type":"quantitative","scale":{"domain":[-0.02,0.418],"nice":false,"zero":false},"axis":{"title":"Proportion emerging","values":[0,0.05,0.1,0.15,0.2,0.25,0.3,0.35,0.4],"labelExpr":"datum.value==0?'0':format(datum.value,'.2f')"}}}},
{"data":{"name":"bars"},"transform":[{"filter":"datum.p==8 && isValid(datum.lo)"}],"mark":{"type":"rule","color":"#111","strokeWidth":0.8},"encoding":{"y":{"field":"lo","type":"quantitative","axis":{"title":"Proportion emerging","values":[0,0.05,0.1,0.15,0.2,0.25,0.3,0.35,0.4],"labelExpr":"datum.value==0?'0':format(datum.value,'.2f')"}},"y2":{"field":"hi"}}},
{"data":{"name":"bars"},"transform":[{"filter":"datum.p==8 && isValid(datum.lo)"}],"mark":{"type":"tick","color":"#111","size":3,"thickness":0.8},"encoding":{"y":{"field":"lo","type":"quantitative","axis":{"title":"Proportion emerging","values":[0,0.05,0.1,0.15,0.2,0.25,0.3,0.35,0.4],"labelExpr":"datum.value==0?'0':format(datum.value,'.2f')"}}}},
{"data":{"name":"bars"},"transform":[{"filter":"datum.p==8 && isValid(datum.lo)"}],"mark":{"type":"tick","color":"#111","size":3,"thickness":0.8},"encoding":{"y":{"field":"hi","type":"quantitative","axis":{"title":"Proportion emerging","values":[0,0.05,0.1,0.15,0.2,0.25,0.3,0.35,0.4],"labelExpr":"datum.value==0?'0':format(datum.value,'.2f')"}}}},
{"data":{"name":"notes"},"transform":[{"filter":"datum.p==8"}],"mark":{"type":"text","fontSize":8,"lineBreak":"\n","lineHeight":10,"align":"center","baseline":"middle","color":"#222"},"encoding":{"y":{"field":"y","type":"quantitative","axis":{"title":"Proportion emerging","values":[0,0.05,0.1,0.15,0.2,0.25,0.3,0.35,0.4],"labelExpr":"datum.value==0?'0':format(datum.value,'.2f')"}},"text":{"field":"t"}}},
{"data":{"name":"arrows"},"transform":[{"filter":"datum.p==8"}],"mark":{"type":"rule","color":"#333","strokeWidth":1,"strokeDash":[3,2]},"encoding":{"y":{"field":"top","type":"quantitative","axis":{"title":"Proportion emerging","values":[0,0.05,0.1,0.15,0.2,0.25,0.3,0.35,0.4],"labelExpr":"datum.value==0?'0':format(datum.value,'.2f')"}},"y2":{"field":"tip"}}},
{"data":{"name":"arrows"},"transform":[{"filter":"datum.p==8"}],"mark":{"type":"point","shape":"M-0.7,-1L0,0L0.7,-1","filled":false,"opacity":1,"stroke":"#333","strokeWidth":1,"strokeDash":[3,2],"size":324},"encoding":{"y":{"field":"tip","type":"quantitative","axis":{"title":"Proportion emerging","values":[0,0.05,0.1,0.15,0.2,0.25,0.3,0.35,0.4],"labelExpr":"datum.value==0?'0':format(datum.value,'.2f')"}}}}
]},
{"width":335,"height":97,"encoding":{"x":{"field":"m","type":"nominal","scale":{"domain":["Jul-12","Aug-12","Sep-12","Oct-12","Nov-12","Dec-12","Jan-13","Feb-13","Mar-13","Apr-13","May-13","Jun-13","Jul-13","Aug-13","Sep-13","Oct-13","Nov-13","Dec-13","Jan-14","Feb-14","May-14","Jul-14","Oct-14","Mar-15"],"paddingInner":0.08,"paddingOuter":0.04},"axis":null}},"layer":[
{"data":{"name":"bars"},"transform":[{"filter":"datum.p==9"}],"mark":{"type":"bar","fill":"#808080","stroke":"#1a1a1a","strokeWidth":0.8},"encoding":{"y":{"field":"v","type":"quantitative","scale":{"domain":[-0.02,0.418],"nice":false,"zero":false},"axis":{"title":"Proportion emerging","values":[0,0.05,0.1,0.15,0.2,0.25,0.3,0.35,0.4],"labelExpr":"datum.value==0?'0':format(datum.value,'.2f')"}}}},
{"data":{"name":"bars"},"transform":[{"filter":"datum.p==9 && isValid(datum.lo)"}],"mark":{"type":"rule","color":"#111","strokeWidth":0.8},"encoding":{"y":{"field":"lo","type":"quantitative","axis":{"title":"Proportion emerging","values":[0,0.05,0.1,0.15,0.2,0.25,0.3,0.35,0.4],"labelExpr":"datum.value==0?'0':format(datum.value,'.2f')"}},"y2":{"field":"hi"}}},
{"data":{"name":"bars"},"transform":[{"filter":"datum.p==9 && isValid(datum.lo)"}],"mark":{"type":"tick","color":"#111","size":3,"thickness":0.8},"encoding":{"y":{"field":"lo","type":"quantitative","axis":{"title":"Proportion emerging","values":[0,0.05,0.1,0.15,0.2,0.25,0.3,0.35,0.4],"labelExpr":"datum.value==0?'0':format(datum.value,'.2f')"}}}},
{"data":{"name":"bars"},"transform":[{"filter":"datum.p==9 && isValid(datum.lo)"}],"mark":{"type":"tick","color":"#111","size":3,"thickness":0.8},"encoding":{"y":{"field":"hi","type":"quantitative","axis":{"title":"Proportion emerging","values":[0,0.05,0.1,0.15,0.2,0.25,0.3,0.35,0.4],"labelExpr":"datum.value==0?'0':format(datum.value,'.2f')"}}}},
{"data":{"name":"notes"},"transform":[{"filter":"datum.p==9"}],"mark":{"type":"text","fontSize":8,"lineBreak":"\n","lineHeight":10,"align":"center","baseline":"middle","color":"#222"},"encoding":{"y":{"field":"y","type":"quantitative","axis":{"title":"Proportion emerging","values":[0,0.05,0.1,0.15,0.2,0.25,0.3,0.35,0.4],"labelExpr":"datum.value==0?'0':format(datum.value,'.2f')"}},"text":{"field":"t"}}},
{"data":{"name":"arrows"},"transform":[{"filter":"datum.p==9"}],"mark":{"type":"rule","color":"#333","strokeWidth":1,"strokeDash":[3,2]},"encoding":{"y":{"field":"top","type":"quantitative","axis":{"title":"Proportion emerging","values":[0,0.05,0.1,0.15,0.2,0.25,0.3,0.35,0.4],"labelExpr":"datum.value==0?'0':format(datum.value,'.2f')"}},"y2":{"field":"tip"}}},
{"data":{"name":"arrows"},"transform":[{"filter":"datum.p==9"}],"mark":{"type":"point","shape":"M-0.7,-1L0,0L0.7,-1","filled":false,"opacity":1,"stroke":"#333","strokeWidth":1,"strokeDash":[3,2],"size":324},"encoding":{"y":{"field":"tip","type":"quantitative","axis":{"title":"Proportion emerging","values":[0,0.05,0.1,0.15,0.2,0.25,0.3,0.35,0.4],"labelExpr":"datum.value==0?'0':format(datum.value,'.2f')"}}}}
]},
{"width":335,"height":97,"encoding":{"x":{"field":"m","type":"nominal","scale":{"domain":["Jul-12","Aug-12","Sep-12","Oct-12","Nov-12","Dec-12","Jan-13","Feb-13","Mar-13","Apr-13","May-13","Jun-13","Jul-13","Aug-13","Sep-13","Oct-13","Nov-13","Dec-13","Jan-14","Feb-14","May-14","Jul-14","Oct-14","Mar-15"],"paddingInner":0.08,"paddingOuter":0.04},"axis":{"title":"Month","labelAngle":-45,"labelFontSize":6.5,"labelPadding":1,"titleY":30,"titleBaseline":"top"}}},"layer":[
{"data":{"name":"bars"},"transform":[{"filter":"datum.p==10"}],"mark":{"type":"bar","fill":"#808080","stroke":"#1a1a1a","strokeWidth":0.8},"encoding":{"y":{"field":"v","type":"quantitative","scale":{"domain":[-0.014,0.314],"nice":false,"zero":false},"axis":{"title":"Proportion emerging","values":[0,0.05,0.1,0.15,0.2,0.25,0.3],"labelExpr":"datum.value==0?'0':format(datum.value,'.2f')"}}}},
{"data":{"name":"bars"},"transform":[{"filter":"datum.p==10 && isValid(datum.lo)"}],"mark":{"type":"rule","color":"#111","strokeWidth":0.8},"encoding":{"y":{"field":"lo","type":"quantitative","axis":{"title":"Proportion emerging","values":[0,0.05,0.1,0.15,0.2,0.25,0.3],"labelExpr":"datum.value==0?'0':format(datum.value,'.2f')"}},"y2":{"field":"hi"}}},
{"data":{"name":"bars"},"transform":[{"filter":"datum.p==10 && isValid(datum.lo)"}],"mark":{"type":"tick","color":"#111","size":3,"thickness":0.8},"encoding":{"y":{"field":"lo","type":"quantitative","axis":{"title":"Proportion emerging","values":[0,0.05,0.1,0.15,0.2,0.25,0.3],"labelExpr":"datum.value==0?'0':format(datum.value,'.2f')"}}}},
{"data":{"name":"bars"},"transform":[{"filter":"datum.p==10 && isValid(datum.lo)"}],"mark":{"type":"tick","color":"#111","size":3,"thickness":0.8},"encoding":{"y":{"field":"hi","type":"quantitative","axis":{"title":"Proportion emerging","values":[0,0.05,0.1,0.15,0.2,0.25,0.3],"labelExpr":"datum.value==0?'0':format(datum.value,'.2f')"}}}},
{"data":{"name":"notes"},"transform":[{"filter":"datum.p==10"}],"mark":{"type":"text","fontSize":8,"lineBreak":"\n","lineHeight":10,"align":"center","baseline":"middle","color":"#222"},"encoding":{"y":{"field":"y","type":"quantitative","axis":{"title":"Proportion emerging","values":[0,0.05,0.1,0.15,0.2,0.25,0.3],"labelExpr":"datum.value==0?'0':format(datum.value,'.2f')"}},"text":{"field":"t"}}},
{"data":{"name":"arrows"},"transform":[{"filter":"datum.p==10"}],"mark":{"type":"rule","color":"#333","strokeWidth":1,"strokeDash":[3,2]},"encoding":{"y":{"field":"top","type":"quantitative","axis":{"title":"Proportion emerging","values":[0,0.05,0.1,0.15,0.2,0.25,0.3],"labelExpr":"datum.value==0?'0':format(datum.value,'.2f')"}},"y2":{"field":"tip"}}},
{"data":{"name":"arrows"},"transform":[{"filter":"datum.p==10"}],"mark":{"type":"point","shape":"M-0.7,-1L0,0L0.7,-1","filled":false,"opacity":1,"stroke":"#333","strokeWidth":1,"strokeDash":[3,2],"size":324},"encoding":{"y":{"field":"tip","type":"quantitative","axis":{"title":"Proportion emerging","values":[0,0.05,0.1,0.15,0.2,0.25,0.3],"labelExpr":"datum.value==0?'0':format(datum.value,'.2f')"}}}}
]}
]}
],
"spacing":9
}
